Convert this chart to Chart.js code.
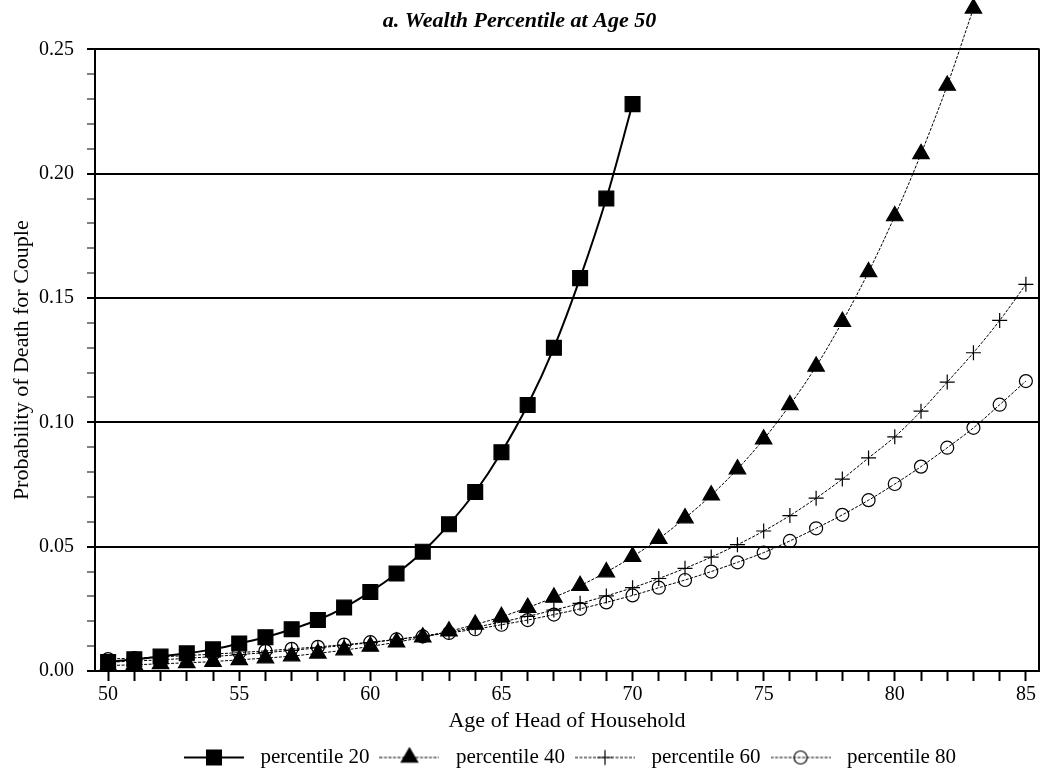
<!DOCTYPE html>
<html>
<head>
<meta charset="utf-8">
<script src="https://cdn.jsdelivr.net/npm/chart.js@4/dist/chart.umd.min.js"></script>
<style>
  html, body { margin: 0; padding: 0; background: #fff; }
  #wrap { width: 1042px; height: 773px; }
</style>
</head>
<body>
<div id="wrap"><canvas id="grafico"></canvas></div>
<script>
const idades = [50, 51, 52, 53, 54, 55, 56, 57, 58, 59, 60, 61, 62, 63, 64, 65, 66, 67,
  68, 69, 70, 71, 72, 73, 74, 75, 76, 77, 78, 79, 80, 81, 82, 83, 84, 85];

const percentil20 = [0.0036, 0.0047, 0.0058, 0.0071, 0.0087, 0.0111, 0.0136, 0.0168, 0.0205,
  0.0255, 0.0318, 0.0392, 0.048, 0.059, 0.072, 0.088, 0.107, 0.130, 0.158, 0.190, 0.228];

const percentil40 = [0.0022, 0.0025, 0.0029, 0.0033, 0.0038, 0.0045, 0.0052, 0.0060, 0.0071,
  0.0084, 0.0099, 0.0116, 0.0136, 0.016, 0.0187, 0.0218, 0.0255, 0.0296, 0.0343, 0.0398,
  0.046, 0.0532, 0.0615, 0.0707, 0.0812, 0.0932, 0.107, 0.1225, 0.1405, 0.1605, 0.183,
  0.208, 0.2355, 0.2665];

const percentil60 = [0.0035, 0.004, 0.0045, 0.0051, 0.0058, 0.0066, 0.0074, 0.0083, 0.0093,
  0.0103, 0.0114, 0.0127, 0.0141, 0.0157, 0.0176, 0.0197, 0.022, 0.0245, 0.0272, 0.0302,
  0.0335, 0.0372, 0.0413, 0.0458, 0.0508, 0.0563, 0.0625, 0.0695, 0.0772, 0.0857, 0.0942,
  0.1045, 0.1162, 0.128, 0.141, 0.1555];

const percentil80 = [0.0048, 0.0052, 0.0057, 0.0062, 0.0068, 0.0074, 0.0081, 0.0089, 0.0097,
  0.0106, 0.0116, 0.0127, 0.0139, 0.0153, 0.0168, 0.0186, 0.0205, 0.0227, 0.025, 0.0276,
  0.0304, 0.0335, 0.0366, 0.040, 0.0437, 0.0476, 0.0523, 0.0574, 0.0628, 0.0687, 0.0752,
  0.0822, 0.0898, 0.0978, 0.1071, 0.1166];

const rotulos = ['percentile 20', 'percentile 40', 'percentile 60', 'percentile 80'];

const fonte = "'Liberation Serif', 'Times New Roman', serif";

function pontos(valores) {
  return valores.map((v, i) => ({ x: idades[i], y: v }));
}

// legend swatch: short line with the marker in the middle
function amostra(ds) {
  const c = document.createElement('canvas');
  c.width = 60; c.height = 22;
  const ctx = c.getContext('2d');
  ctx.strokeStyle = '#000';
  ctx.lineWidth = ds.borderWidth;
  ctx.setLineDash(ds.borderDash || []);
  ctx.beginPath();
  ctx.moveTo(0, 11); ctx.lineTo(60, 11);
  ctx.stroke();
  ctx.setLineDash([]);
  ctx.fillStyle = ds.pointBackgroundColor;
  ctx.strokeStyle = '#000';
  ctx.lineWidth = 1.2;
  Chart.helpers.drawPoint(ctx, { pointStyle: ds.pointStyle, radius: ds.pointRadius, borderWidth: 1.2 }, 30, 11);
  return c;
}

// right border of the plot box, and points that sit above the top of the axis
const moldura = {
  id: 'moldura',
  afterDatasetsDraw(chart) {
    const { ctx, chartArea } = chart;
    const tudo = { left: 0, top: 0, right: chart.width, bottom: chart.height };
    chart.data.datasets.forEach((ds, i) => {
      chart.getDatasetMeta(i).data.forEach(p => {
        if (p.y < chartArea.top) p.draw(ctx, tudo);
      });
    });
  },
  afterDraw(chart) {
    const { ctx, chartArea } = chart;
    ctx.save();
    ctx.strokeStyle = '#000';
    ctx.lineWidth = 2;
    ctx.beginPath();
    ctx.moveTo(chartArea.right, chartArea.top - 1);
    ctx.lineTo(chartArea.right, chartArea.bottom);
    ctx.stroke();
    ctx.restore();
  }
};

const ehMaior = v => Math.abs(Math.round(v * 100) % 5) === 0;

const datasets = [
  {
    label: rotulos[0], data: pontos(percentil20),
    borderColor: '#000', borderWidth: 2,
    pointStyle: 'rect', pointRadius: 10.5, pointBackgroundColor: '#000', pointBorderColor: '#000'
  },
  {
    label: rotulos[1], data: pontos(percentil40),
    borderColor: '#000', borderWidth: 1, borderDash: [3, 1.5],
    pointStyle: 'triangle', pointRadius: 9.5, pointBackgroundColor: '#000', pointBorderColor: '#000'
  },
  {
    label: rotulos[2], data: pontos(percentil60),
    borderColor: '#000', borderWidth: 1, borderDash: [3, 1.5],
    pointStyle: 'cross', pointRadius: 7.5, pointBackgroundColor: 'rgba(0,0,0,0)', pointBorderColor: '#000'
  },
  {
    label: rotulos[3], data: pontos(percentil80),
    borderColor: '#000', borderWidth: 1, borderDash: [3, 1.5],
    pointStyle: 'circle', pointRadius: 6.5, pointBackgroundColor: 'rgba(0,0,0,0)', pointBorderColor: '#000'
  }
];
datasets.forEach(ds => {
  ds.fill = false;
  ds.clip = false;
  ds.pointBorderWidth = 1.2;
  ds.cubicInterpolationMode = 'monotone';
});

new Chart(document.getElementById('grafico'), {
  type: 'line',
  data: { datasets: datasets },
  plugins: [moldura],
  options: {
    responsive: true,
    maintainAspectRatio: false,
    animation: false,
    layout: { autoPadding: false, padding: { left: 0, right: 3, top: 0, bottom: -5 } },
    scales: {
      x: {
        type: 'linear',
        min: 49.5,
        max: 85.5,
        afterBuildTicks: scale => { scale.ticks = idades.map(v => ({ value: v })); },
        afterFit: scale => {
          scale.height = 72;
          scale.paddingLeft = 0;
          scale.paddingRight = 0;
        },
        ticks: {
          autoSkip: false,
          maxRotation: 0,
          padding: 2,
          color: '#000',
          font: { family: fonte, size: 20 },
          callback: v => (v % 5 === 0 ? String(v) : '')
        },
        grid: {
          drawOnChartArea: false,
          tickLength: 10,
          tickColor: '#000',
          tickWidth: 2
        },
        border: { display: true, color: '#000', width: 2 },
        title: {
          display: true,
          text: 'Age of Head of Household',
          color: '#000',
          font: { family: fonte, size: 22 },
          padding: { top: 0, bottom: 9 }
        }
      },
      y: {
        min: 0,
        max: 0.25,
        afterFit: scale => { scale.width = 95; },
        ticks: {
          stepSize: 0.01,
          autoSkip: false,
          padding: 13,
          color: '#000',
          font: { family: fonte, size: 20 },
          callback: v => (ehMaior(v) ? v.toFixed(2) : '')
        },
        grid: {
          color: c => (ehMaior(c.tick.value) ? '#000' : 'rgba(0,0,0,0)'),
          lineWidth: 2,
          tickLength: 8,
          tickColor: '#000',
          tickWidth: c => (ehMaior(c.tick.value) ? 2 : 1)
        },
        border: { display: true, color: '#000', width: 2 },
        title: {
          display: true,
          text: 'Probability of Death for Couple',
          color: '#000',
          font: { family: fonte, size: 22 },
          padding: { top: 9, bottom: 0 }
        }
      }
    },
    plugins: {
      title: {
        display: true,
        text: 'a. Wealth Percentile at Age 50',
        color: '#000',
        font: { family: fonte, size: 22, weight: 'bold', style: 'italic' },
        padding: { top: 8, bottom: 15 }
      },
      legend: {
        position: 'bottom',
        fullSize: false,
        labels: {
          usePointStyle: true,
          pointStyleWidth: 72,
          boxHeight: 21,
          padding: 4,
          color: '#000',
          font: { family: fonte, size: 21 },
          generateLabels: chart => chart.data.datasets.map((ds, i) => ({
            text: ds.label,
            pointStyle: amostra(ds),
            fillStyle: '#000',
            strokeStyle: '#000',
            lineWidth: 0,
            fontColor: '#000',
            hidden: false,
            datasetIndex: i
          }))
        }
      },
      tooltip: { enabled: false }
    }
  }
});
</script>
</body>
</html>
